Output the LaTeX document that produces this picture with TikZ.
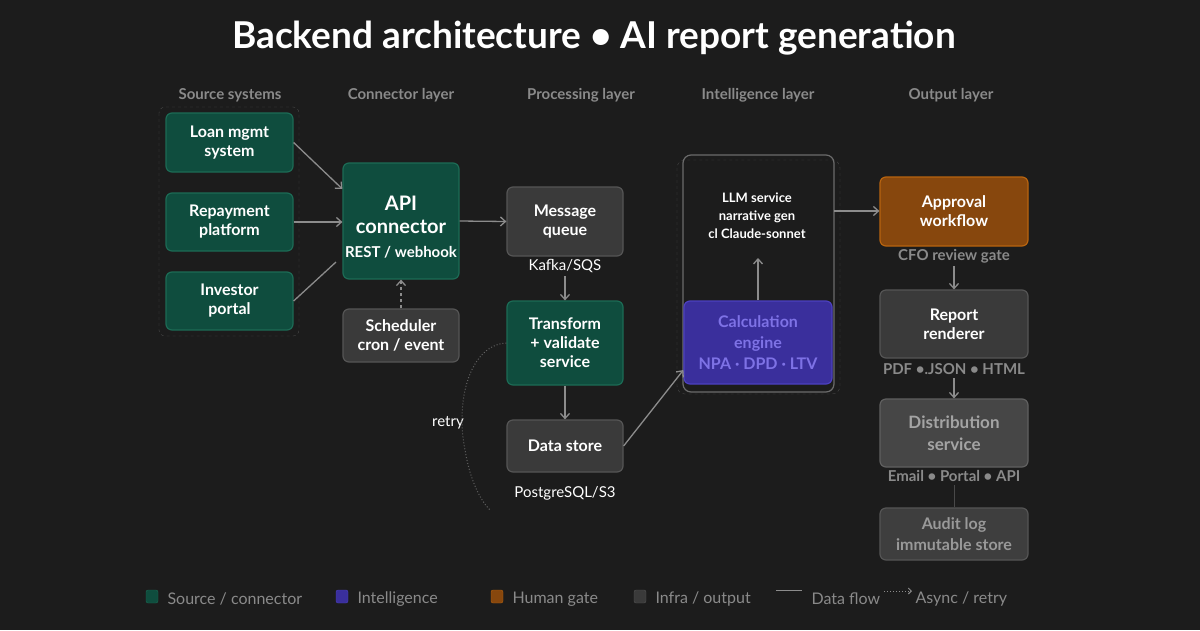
\documentclass[tikz,border=0pt]{standalone}
\usepackage{fontspec}
\setmainfont{Lato}
\usetikzlibrary{arrows.meta}
\definecolor{bg}{HTML}{1C1C1C}
\definecolor{grn}{HTML}{0F4D3E}
\definecolor{grnb}{HTML}{1C6B55}
\definecolor{pur}{HTML}{3A2F9C}
\definecolor{purb}{HTML}{4C40C0}
\definecolor{purt}{HTML}{7E72E6}
\definecolor{org}{HTML}{87470D}
\definecolor{orgb}{HTML}{B8640F}
\definecolor{inf}{HTML}{3A3A3A}
\definecolor{infb}{HTML}{555555}
\definecolor{dis}{HTML}{464646}
\definecolor{hdr}{HTML}{8A8A8A}
\definecolor{ln}{HTML}{8C8C8C}
\tikzset{
 box/.style={draw, rounded corners=6pt, line width=1.2pt, align=center, text=white, font=\fontsize{16}{19}\selectfont\bfseries, inner sep=0pt},
 g/.style={box, fill=grn, draw=grnb},
 i/.style={box, fill=inf, draw=infb},
 hdr/.style={text=hdr, font=\fontsize{15}{17}\selectfont\bfseries},
 sub/.style={text=white, font=\fontsize{15}{17}\selectfont},
 arr/.style={draw=ln, line width=1.3pt, -{Straight Barb[length=5pt,width=9pt]}},
 leg/.style={text=hdr, font=\fontsize{16}{18}\selectfont, anchor=west},
}
\begin{document}
\begin{tikzpicture}[x=1pt,y=-1pt]
\fill[bg] (0,0) rectangle (1200,630);
\useasboundingbox (0,0) rectangle (1200,630);
\node[text=white, font=\fontsize{37}{42}\selectfont\bfseries] (title) at (594,38) {Backend architecture • AI report generation};
\node[hdr] (h1) at (230,95) {Source systems};
\node[hdr] (h2) at (401,95) {Connector layer};
\node[hdr] (h3) at (581,95) {Processing layer};
\node[hdr] (h4) at (758,95) {Intelligence layer};
\node[hdr] (h5) at (951,95) {Output layer};
% source group
\draw[draw=white!20!bg, dashed, rounded corners=6pt] (159,107) rectangle (299,336);
\node[g, minimum width=127pt, minimum height=59pt] (loan) at (229.5,142.5) {Loan mgmt\\system};
\node[g, minimum width=127pt, minimum height=58pt] (rep) at (229.5,222) {Repayment\\platform};
\node[g, minimum width=127pt, minimum height=58pt] (inv) at (229.5,301) {Investor\\portal};
\node[g, minimum width=116pt, minimum height=116pt] (api) at (401,221) {};
\node[text=white, font=\fontsize{20}{23}\selectfont\bfseries, align=center] (apit) at (401,215) {API\\connector};
\node[text=white, font=\fontsize{15}{17}\selectfont\bfseries] (apis) at (401,252) {REST / webhook};
\node[i, minimum width=116pt, minimum height=53pt] (sch) at (401,335.5) {Scheduler\\cron / event};
\node[i, minimum width=116pt, minimum height=69pt] (mq) at (565,221.5) {Message\\queue};
\node[sub] (kafka) at (565,266) {Kafka/SQS};
\node[g, minimum width=116pt, minimum height=84pt] (tr) at (565,343) {Transform\\+ validate\\service};
\node[i, minimum width=116pt, minimum height=52pt] (ds) at (565,446) {Data store};
\node[sub] (pg) at (565,493) {PostgreSQL/S3};
\node[sub] (retry) at (448,423) {retry};
% intelligence group
\draw[draw=white!18!bg, dashed, rounded corners=8pt] (677,160) rectangle (840,394);
\draw[draw=white!35!bg, line width=1.2pt, rounded corners=8pt] (683,155) rectangle (834,392);
\coordinate (llmE) at (834,211);
\node[text=white, font=\fontsize{13}{18}\selectfont\bfseries, align=center] (llm) at (757,216) {LLM service\\narrative gen\\cl Claude-sonnet};
\node[box, fill=pur, draw=purb, text=purt, minimum width=148pt, minimum height=83pt, font=\fontsize{16}{21}\selectfont\bfseries] (calc) at (758,342.5) {Calculation\\engine\\NPA · DPD · LTV};
\node[box, fill=org, draw=orgb, minimum width=148pt, minimum height=69pt] (appr) at (954,211.5) {Approval\\workflow};
\node[hdr] (cfo) at (954,256) {CFO review gate};
\node[i, minimum width=148pt, minimum height=68pt] (rr) at (954,324) {Report\\renderer};
\node[hdr] (pdf) at (954,369) {PDF •.JSON • HTML};
\node[box, fill=dis, draw=white!30!bg, text=white!60!bg, minimum width=148pt, minimum height=68pt, font=\fontsize{17}{22}\selectfont\bfseries] (dist) at (954,433) {Distribution\\service};
\node[hdr] (email) at (954,476) {Email • Portal • API};
\node[box, fill=dis!80!bg, draw=white!25!bg, text=white!55!bg, minimum width=148pt, minimum height=52pt, font=\fontsize{16}{21}\selectfont\bfseries] (aud) at (954,534) {Audit log\\immutable store};
% connectors
\draw[arr] (loan.east) -- (api.west |- 0,189) coordinate (a1);
\draw[arr] (rep.east) -- (rep.east -| api.west);
\draw[draw=ln, line width=1.3pt] (inv.east) -- (336,262) coordinate (a3);
\draw[arr] (api.east) -- (mq.west);
\draw[draw=ln, line width=1.3pt, dashed, dash pattern=on 3pt off 3pt, -{Straight Barb[length=5pt,width=9pt]}] (sch.north) -- (api.south);
\draw[arr] (kafka.south) -- (tr.north);
\draw[arr] (tr.south) -- (ds.north);
\draw[draw=white!30!bg, line width=1pt, dotted] (tr.west) .. controls (470,345) and (455,400) .. (465,450) .. controls (470,480) and (480,500) .. (490,510) coordinate (rt);
\draw[arr] (ds.east) -- (calc.west |- 0,370);
\draw[arr] (calc.north) -- (758,258) coordinate (lt);
\draw[arr] (llmE) -- (appr.west |- llmE);
\draw[arr] (cfo.south) -- (rr.north);
\draw[arr] (pdf.south) -- (dist.north);
\draw[draw=white!20!bg, line width=1pt] (email.south) -- (aud.north);
% legend
\fill[grn, draw=grnb, rounded corners=2pt] (146,590) rectangle (158,603);
\node[leg] (l1) at (164,599) {Source / connector};
\fill[pur, draw=purb, rounded corners=2pt] (336,590) rectangle (348,603);
\node[leg] (l2) at (354,599) {Intelligence};
\fill[org, draw=orgb, rounded corners=2pt] (491,590) rectangle (503,603);
\node[leg] (l3) at (509,599) {Human gate};
\fill[inf, draw=infb, rounded corners=2pt] (634,590) rectangle (646,603);
\node[leg] (l4) at (652,599) {Infra / output};
\coordinate (lf1) at (776,590); \coordinate (lf2) at (802,590);
\draw[draw=ln, line width=1pt] (lf1) -- (lf2);
\node[leg] (l5) at (808,599) {Data flow};
\coordinate (la1) at (884,591); \coordinate (la2) at (912,591);
\draw[draw=ln, line width=1pt, dotted, -{Straight Barb[length=3pt,width=6pt]}] (la1) -- (la2);
\node[leg] (l6) at (912,599) {Async / retry};
\end{tikzpicture}
\end{document}
